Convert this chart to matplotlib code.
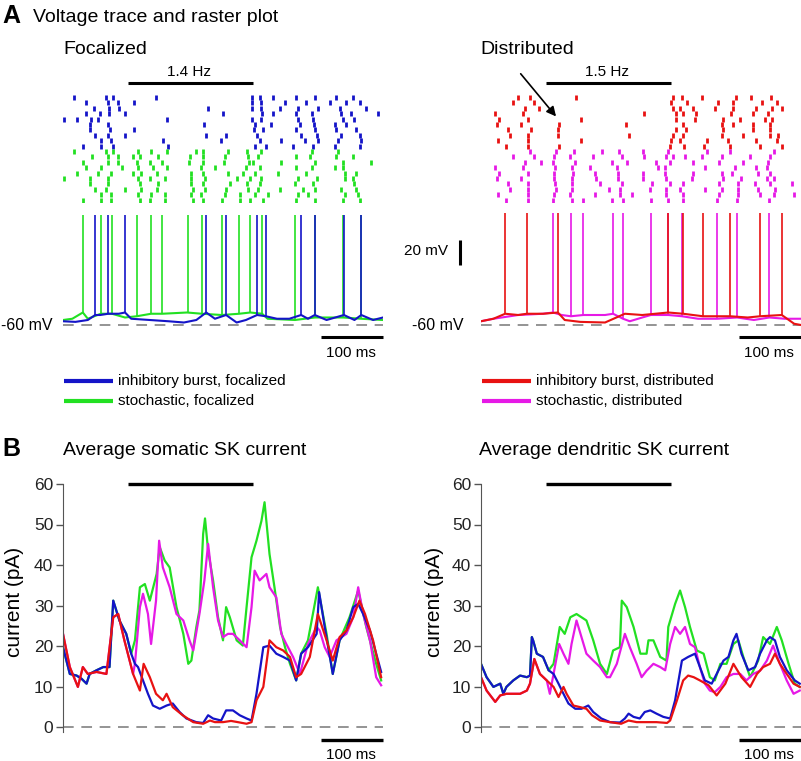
import matplotlib.pyplot as plt
import numpy as np
from matplotlib import transforms
from matplotlib.lines import Line2D

plt.rcParams['font.family'] = ['Liberation Sans', 'DejaVu Sans']

W, H = 801, 761
BLUE = '#1414c8'
GREEN = '#22e022'
RED = '#e81212'
MAGENTA = '#e619e6'
GREY = '#777777'

T_END = 516
STIM = [105, 306]
SCALE_MS = [416, 516]

# ---- panel A: raster rows (spike times, ms) ----
raster_focal_burst = [
    [18, 69, 81, 150, 304, 317, 339, 376, 406, 441, 468],
    [37, 73, 88, 114, 304, 320, 358, 392, 430, 457, 479],
    [50, 74, 91, 234, 304, 320, 350, 379, 411, 446, 489],
    [37, 59, 74, 100, 258, 321, 339, 376, 401, 449, 465, 508],
    [2, 22, 45, 57, 167, 304, 320, 379, 403, 452, 470],
    [44, 73, 227, 309, 336, 382, 405, 438, 457],
    [44, 75, 115, 308, 323, 376, 406, 441, 473],
    [52, 73, 100, 230, 263, 313, 384, 409, 449, 479],
    [62, 78, 161, 255, 317, 351, 390, 411, 444, 481],
    [32, 62, 81, 169, 309, 328, 371, 403, 438, 479],
]
raster_focal_stoch = [
    [18, 69, 81, 121, 142, 167, 214, 225, 266, 297, 320, 401, 444],
    [46, 73, 89, 113, 124, 153, 204, 226, 261, 298, 315, 376, 398, 441, 468],
    [32, 73, 88, 120, 141, 160, 203, 225, 259, 300, 307, 351, 406, 452, 497],
    [37, 62, 95, 121, 145, 167, 223, 245, 295, 317, 376, 401, 438, 452],
    [22, 57, 78, 113, 126, 151, 207, 226, 266, 290, 309, 347, 392, 454, 473],
    [2, 44, 73, 121, 140, 164, 207, 229, 281, 301, 320, 379, 409, 454, 468],
    [44, 73, 124, 153, 207, 226, 269, 296, 317, 374, 403, 470],
    [52, 70, 100, 125, 151, 210, 229, 263, 298, 315, 350, 387, 406, 449, 473],
    [62, 78, 121, 142, 164, 207, 223, 261, 285, 309, 331, 379, 395, 454, 476],
    [32, 62, 78, 124, 140, 164, 210, 226, 257, 285, 301, 323, 375, 406, 452, 479],
]
raster_dist_burst = [
    [59, 79, 153, 310, 324, 357, 411, 435, 468],
    [52, 86, 307, 332, 382, 407, 453, 477],
    [71, 94, 310, 321, 342, 377, 407, 444, 469, 486],
    [23, 68, 263, 314, 325, 346, 403, 439, 462],
    [29, 75, 161, 314, 345, 390, 418, 458, 469],
    [26, 64, 125, 234, 326, 388, 407, 438, 466],
    [44, 81, 124, 314, 330, 391, 439, 466],
    [47, 75, 124, 238, 310, 326, 388, 423, 466, 479],
    [28, 75, 162, 307, 321, 364, 399, 443, 477],
    [40, 75, 126, 304, 328, 360, 402, 450, 485],
]
raster_dist_stoch = [
    [79, 121, 150, 195, 223, 261, 301, 364, 402, 472],
    [52, 86, 118, 143, 180, 227, 263, 298, 310, 329, 357, 388, 434, 466],
    [71, 97, 116, 152, 212, 235, 282, 305, 342, 384, 423, 463],
    [23, 68, 119, 146, 176, 219, 286, 297, 361, 410, 444, 461],
    [29, 75, 118, 149, 184, 221, 262, 297, 342, 388, 404, 447, 466],
    [26, 64, 117, 146, 186, 221, 262, 299, 340, 391, 420, 461, 472],
    [44, 75, 119, 146, 192, 227, 275, 305, 326, 383, 415, 442, 466, 501],
    [47, 76, 121, 146, 206, 224, 272, 299, 321, 361, 388, 415, 447, 474],
    [28, 75, 117, 143, 184, 224, 243, 298, 326, 383, 414, 450, 472, 504],
    [40, 75, 116, 146, 165, 212, 229, 274, 301, 325, 380, 413, 465],
]

# ---- panel A: somatic voltage (baseline keypoints + spike times) ----
vf_burst_t = [0, 20, 40, 52, 60, 73, 90, 100, 110, 140, 170, 195, 215, 231, 245, 263, 280, 295,
              313, 327, 345, 365, 384, 395, 406, 425, 453, 470, 481, 500, 516]
vf_burst_v = [-57, -57.5, -56, -52, -52, -51, -51, -50, -55, -56, -57, -58, -56, -50, -55, -52, -58, -56,
              -52, -53, -55, -55, -52, -55, -52, -56, -52, -56, -52, -56, -54]
vf_burst_spikes = [52, 73, 100, 231, 263, 313, 327, 384, 406, 453, 481]

vf_stoch_t = [0, 15, 32, 40, 61, 79, 100, 119, 142, 160, 200, 224, 256, 284, 302, 321, 330, 374,
              406, 452, 481, 516]
vf_stoch_v = [-56, -55, -50, -55, -51, -51, -54, -53, -51, -51, -50, -51, -52, -51, -50, -51, -55, -56,
              -54, -54, -55, -56]
vf_stoch_spikes = [32, 61, 79, 119, 142, 160, 202, 224, 256, 284, 302, 321, 374, 406, 452, 481]

vd_burst_t = [0, 20, 39, 60, 74, 100, 124, 135, 160, 200, 232, 260, 302, 326, 358, 402, 430, 450,
              485, 505, 516]
vd_burst_v = [-57, -55, -51, -52, -51, -51, -50, -56, -57.5, -58, -51, -52, -50, -51, -53, -53, -54,
              -53, -52, -59, -60]
vd_burst_spikes = [39, 74, 124, 302, 326, 358, 402, 450, 485]

vd_stoch_t = [0, 20, 60, 100, 116, 130, 145, 165, 200, 213, 229, 240, 260, 274, 302, 324, 350, 381,
              413, 440, 465, 490, 516]
vd_stoch_v = [-57, -55, -52, -51, -50, -52, -53, -52, -52, -51, -55, -57, -54, -52, -52, -53, -55,
              -55, -54, -56, -54, -55, -55]
vd_stoch_spikes = [116, 145, 165, 213, 229, 274, 302, 324, 381, 413, 465]

# ---- panel B: average SK currents (ms, pA) ----
soma_burst_f_t = [0, 11, 22, 30, 38, 43, 54, 65, 75, 81, 91, 102, 110, 116, 121, 129, 137, 145, 156,
                  167, 177, 188, 199, 215, 226, 234, 242, 255, 263, 274, 285, 296, 304, 312, 323, 333,
                  344, 355, 366, 376, 384, 395, 409, 413, 422, 435, 446, 457, 468, 476, 484, 495, 505, 513]
soma_burst_f = [19.7, 13.1, 12.7, 11.9, 10.7, 13.1, 14.0, 14.8, 14.8, 31.2, 26.3, 23.0, 18.1, 15.6,
                14.8, 11.5, 8.2, 5.3, 4.5, 5.3, 5.8, 3.7, 2.1, 1.2, 1.0, 2.9, 2.1, 1.6, 4.1, 4.1, 2.9,
                2.1, 1.6, 8.2, 19.7, 20.1, 18.1, 17.3, 16.4, 11.5, 18.1, 19.7, 23.0, 33.3, 24.7, 13.1,
                21.4, 23.8, 29.6, 30.4, 27.9, 23.8, 18.1, 13.6]
soma_burst_d_t = [0, 11, 24, 32, 40, 54, 70, 81, 89, 99, 113, 124, 130, 140, 150, 161, 167, 177, 193,
                  210, 226, 237, 245, 258, 271, 282, 296, 304, 312, 323, 333, 344, 355, 366, 376, 384,
                  398, 411, 425, 435, 446, 457, 468, 478, 487, 500, 513]
soma_burst_d = [23.0, 14.8, 9.9, 14.8, 13.1, 13.6, 13.1, 27.1, 27.9, 21.4, 13.1, 9.0, 15.6, 12.3, 8.2,
                6.6, 8.2, 4.9, 2.9, 1.2, 0.8, 1.6, 1.2, 1.2, 1.5, 1.2, 0.8, 1.2, 6.6, 9.9, 21.4, 19.7,
                18.9, 17.3, 12.3, 13.1, 17.3, 27.9, 21.4, 16.4, 22.2, 23.8, 27.1, 31.2, 27.9, 21.4, 12.3]
soma_stoch_f_t = [0, 11, 22, 30, 38, 43, 54, 65, 75, 81, 91, 102, 110, 116, 124, 132, 140, 151, 156,
                  164, 172, 183, 194, 202, 207, 215, 220, 226, 229, 234, 242, 250, 258, 263, 269, 280,
                  290, 296, 304, 312, 320, 325, 333, 341, 350, 358, 366, 376, 384, 395, 411, 425, 435,
                  446, 462, 476, 489, 505, 513]
soma_stoch_f = [19.7, 13.1, 12.7, 11.9, 10.7, 13.1, 14.0, 14.8, 14.8, 31.2, 26.3, 23.0, 18.1, 21.4,
                34.5, 35.3, 31.2, 37.8, 44.4, 41.1, 39.4, 29.6, 23.0, 15.6, 16.4, 24.7, 28.8, 47.7, 51.5,
                43.5, 36.2, 27.1, 21.4, 29.6, 27.1, 21.4, 20.1, 29.6, 41.9, 46.0, 50.9, 55.5, 42.7, 34.5,
                24.7, 19.7, 15.6, 11.5, 18.1, 21.4, 34.5, 23.0, 13.1, 21.4, 27.1, 33.7, 24.7, 15.6, 11.5]
soma_stoch_d_t = [0, 11, 24, 32, 40, 54, 70, 81, 89, 99, 113, 116, 124, 129, 137, 142, 150, 155, 161,
                  172, 183, 194, 204, 210, 220, 228, 234, 242, 250, 258, 266, 274, 285, 296, 304, 309,
                  317, 328, 333, 344, 352, 360, 371, 382, 395, 409, 414, 422, 430, 441, 457, 468, 476,
                  484, 495, 505, 513]
soma_stoch_d = [23.0, 14.8, 9.9, 14.8, 13.1, 13.6, 13.1, 27.1, 27.9, 21.4, 13.1, 15.6, 29.6, 32.9,
                27.9, 20.5, 31.2, 46.0, 39.4, 34.5, 27.9, 26.3, 21.4, 18.9, 27.9, 36.2, 45.2, 34.5, 26.3,
                22.2, 23.0, 23.0, 21.4, 19.7, 29.6, 38.6, 36.2, 37.8, 34.5, 32.0, 23.0, 20.5, 17.3, 13.1,
                20.5, 24.7, 23.8, 19.7, 17.3, 21.4, 23.0, 27.1, 34.5, 27.9, 21.4, 12.3, 10.3]

dend_burst_f_t = [0, 9, 20, 31, 36, 41, 52, 63, 74, 79, 82, 84, 90, 100, 109, 117, 125, 133, 141, 152,
                  162, 173, 181, 194, 208, 224, 232, 238, 246, 256, 264, 273, 283, 294, 305, 313, 324,
                  334, 345, 353, 361, 372, 380, 391, 399, 407, 412, 420, 431, 442, 450, 461, 466, 474,
                  482, 493, 506, 514]
dend_burst_f = [15.6, 12.3, 9.9, 10.7, 8.2, 9.9, 11.5, 12.7, 12.3, 12.7, 22.2, 21.4, 18.1, 17.3, 14.0,
                13.1, 10.7, 8.2, 5.8, 4.5, 4.5, 5.3, 3.7, 2.1, 1.2, 1.1, 2.1, 3.3, 2.5, 2.1, 3.7, 4.1,
                3.3, 2.5, 2.1, 6.6, 16.4, 17.3, 18.1, 14.8, 11.5, 10.7, 13.1, 16.4, 17.3, 21.4, 23.0,
                18.1, 14.0, 14.8, 18.1, 21.4, 22.2, 21.4, 17.3, 14.0, 11.5, 10.7]
dend_burst_d_t = [0, 9, 23, 31, 41, 52, 63, 74, 79, 86, 95, 106, 117, 125, 133, 138, 149, 160, 170,
                  179, 192, 208, 226, 238, 251, 267, 283, 300, 305, 316, 326, 334, 343, 353, 367, 380,
                  394, 407, 420, 434, 445, 455, 466, 474, 482, 493, 504, 514]
dend_burst_d = [12.3, 9.0, 6.2, 7.8, 8.2, 8.2, 8.2, 9.0, 10.7, 16.8, 13.1, 11.5, 9.9, 7.4, 9.9, 8.2,
                5.3, 4.9, 4.5, 2.9, 1.6, 1.2, 0.8, 1.6, 1.2, 1.2, 1.2, 1.0, 1.6, 6.6, 11.5, 12.7, 12.3,
                11.5, 10.3, 7.8, 10.7, 15.6, 12.3, 9.9, 13.1, 14.8, 15.6, 18.1, 15.6, 13.1, 10.7, 9.9]
dend_stoch_f_t = [0, 9, 20, 31, 36, 41, 52, 63, 74, 79, 82, 84, 90, 100, 109, 117, 127, 135, 144, 154,
                  170, 181, 192, 203, 213, 224, 227, 235, 246, 257, 267, 270, 278, 289, 299, 302, 313,
                  321, 329, 337, 348, 359, 369, 377, 386, 396, 407, 415, 423, 434, 447, 455, 466, 477,
                  485, 496, 506, 514]
dend_stoch_f = [15.6, 12.3, 9.9, 10.7, 8.2, 9.9, 11.5, 12.7, 12.3, 12.7, 22.2, 21.4, 18.1, 17.3, 14.0,
                15.6, 24.7, 23.0, 27.1, 27.9, 26.3, 21.4, 15.6, 13.1, 18.9, 19.7, 31.2, 29.6, 24.7, 18.1,
                18.1, 21.4, 21.4, 17.3, 16.4, 24.7, 30.4, 33.7, 29.6, 24.7, 18.9, 18.1, 12.3, 11.5, 15.6,
                15.6, 20.5, 21.4, 17.3, 12.3, 16.4, 22.2, 20.5, 24.7, 21.4, 15.6, 10.7, 9.9]
dend_stoch_d_t = [0, 9, 23, 31, 41, 52, 63, 74, 79, 86, 95, 106, 111, 117, 126, 133, 141, 146, 154,
                  162, 170, 181, 192, 203, 208, 219, 232, 240, 251, 259, 267, 278, 289, 297, 305, 313,
                  321, 329, 337, 345, 353, 361, 369, 377, 386, 396, 407, 418, 428, 439, 450, 461, 471,
                  482, 493, 504, 514]
dend_stoch_d = [12.3, 9.0, 6.2, 7.8, 8.2, 8.2, 8.2, 9.0, 10.7, 16.8, 13.1, 11.5, 8.2, 13.1, 20.5,
                18.1, 15.6, 20.5, 26.3, 22.2, 18.1, 16.4, 14.8, 12.3, 12.3, 15.6, 23.0, 19.7, 15.6,
                12.3, 13.9, 15.6, 14.8, 14.0, 20.5, 24.7, 23.0, 24.7, 20.5, 19.7, 14.8, 10.7, 9.0, 8.6,
                9.9, 12.3, 13.1, 13.1, 11.5, 13.1, 13.9, 16.4, 20.1, 15.6, 11.5, 8.2, 9.0]


fig = plt.figure(figsize=(W / 100, H / 100), dpi=100)


def box(x0, y0, x1, y1):
    return [x0 / W, 1 - y1 / H, (x1 - x0) / W, (y1 - y0) / H]


def fy(y):
    return 1 - y / H


def ftext(x, y, s, **kw):
    fig.text(x / W, fy(y), s, **kw)


def xdata_yfig(ax):
    return transforms.blended_transform_factory(ax.transData, fig.transFigure)


def draw_raster(ax, rows, color, first):
    for i, times in enumerate(rows):
        ax.plot(times, np.full(len(times), first + i), ls='none', marker='|',
                ms=3.6, mew=2.0, color=color)


def draw_trace(ax, t, v, spikes, color, peak):
    ax.plot(t, v, color=color, lw=1.5)
    foot = np.interp(spikes, t, v)
    ax.vlines(spikes, foot, peak, color=color, lw=1.2)


def stim_bar(ax, y, label=None):
    tr = xdata_yfig(ax)
    ax.plot(STIM, [fy(y), fy(y)], transform=tr, color='k', lw=2.2,
            solid_capstyle='butt', clip_on=False)
    if label:
        ax.text(sum(STIM) / 2 - 3, fy(y - 11), label, transform=tr,
                ha='center', va='center', fontsize=11)


# ---- panel A ----
for side, x0 in (('f', 63), ('d', 481)):
    ras = fig.add_axes(box(x0, 94.3, x0 + 320, 202.3))
    ras.set_xlim(0, T_END)
    ras.set_ylim(19.5, -0.5)
    ras.axis('off')
    if side == 'f':
        draw_raster(ras, raster_focal_burst, BLUE, 0)
        draw_raster(ras, raster_focal_stoch, GREEN, 10)
        stim_bar(ras, 83, '1.4 Hz')
    else:
        draw_raster(ras, raster_dist_burst, RED, 0)
        draw_raster(ras, raster_dist_stoch, MAGENTA, 10)
        stim_bar(ras, 83, '1.5 Hz')
        ras.annotate('', xy=(121, 3.6), xytext=(64, -4.3),
                     arrowprops=dict(arrowstyle='-|>', color='k', lw=1.2,
                                     mutation_scale=14, shrinkA=0, shrinkB=0),
                     annotation_clip=False)

    vax = fig.add_axes(box(x0, 205, x0 + 320, 365))
    vax.set_xlim(0, T_END)
    vax.set_ylim(-92, 36)
    vax.axis('off')
    vax.plot([0, T_END], [-60, -60], color=GREY, lw=1.1, ls=(0, (7, 5)))
    if side == 'f':
        draw_trace(vax, vf_stoch_t, vf_stoch_v, vf_stoch_spikes, GREEN, 28)
        draw_trace(vax, vf_burst_t, vf_burst_v, vf_burst_spikes, BLUE, 28)
        vax.text(-17, -60, '-60 mV', ha='right', va='center', fontsize=11.5)
    else:
        draw_trace(vax, vd_stoch_t, vd_stoch_v, vd_stoch_spikes, MAGENTA, 30)
        draw_trace(vax, vd_burst_t, vd_burst_v, vd_burst_spikes, RED, 30)
        vax.text(-29, -60, '-60 mV', ha='right', va='center', fontsize=11.5)
        vax.plot([-34, -34], [-12, 8], color='k', lw=2.2, solid_capstyle='butt', clip_on=False)
        vax.text(-53, -1, '20 mV', ha='right', va='center', fontsize=11)
    vax.plot(SCALE_MS, [-69.6, -69.6], color='k', lw=2.2, solid_capstyle='butt', clip_on=False)
    vax.text(sum(SCALE_MS) / 2 - 2, -82.4, '100 ms', ha='center', va='center', fontsize=11)

# legends
legend_rows = [
    (64, 381, BLUE, 'inhibitory burst, focalized'),
    (64, 401, GREEN, 'stochastic, focalized'),
    (482, 381, RED, 'inhibitory burst, distributed'),
    (482, 401, MAGENTA, 'stochastic, distributed'),
]
for x, y, c, lab in legend_rows:
    fig.add_artist(Line2D([x / W, (x + 49) / W], [fy(y), fy(y)], color=c, lw=3,
                          solid_capstyle='butt'))
    ftext(x + 54, y, lab, ha='left', va='center', fontsize=11)

ftext(2, 16, 'A', fontsize=18, fontweight='bold', va='center', ha='left')
ftext(33, 17, 'Voltage trace and raster plot', fontsize=14, va='center', ha='left')
ftext(63, 50, 'Focalized', fontsize=14, va='center', ha='left')
ftext(480, 50, 'Distributed', fontsize=14, va='center', ha='left')

# ---- panel B ----
ftext(2, 449, 'B', fontsize=18, fontweight='bold', va='center', ha='left')
ftext(63, 451, 'Average somatic SK current', fontsize=14, va='center', ha='left')
ftext(479, 451, 'Average dendritic SK current', fontsize=14, va='center', ha='left')

panels_b = [
    (63, 15, [(soma_stoch_f_t, soma_stoch_f, GREEN), (soma_stoch_d_t, soma_stoch_d, MAGENTA),
              (soma_burst_f_t, soma_burst_f, BLUE), (soma_burst_d_t, soma_burst_d, RED)]),
    (481, 435, [(dend_stoch_f_t, dend_stoch_f, GREEN), (dend_stoch_d_t, dend_stoch_d, MAGENTA),
                (dend_burst_f_t, dend_burst_f, BLUE), (dend_burst_d_t, dend_burst_d, RED)]),
]
for x0, xlab, series in panels_b:
    ax = fig.add_axes(box(x0, 475.9, x0 + 320, 743.2))
    ax.set_xlim(0, T_END)
    ax.set_ylim(-4, 62)
    ax.patch.set_visible(False)
    for s in ('top', 'right', 'bottom'):
        ax.spines[s].set_visible(False)
    ax.spines['left'].set_color('#555555')
    ax.spines['left'].set_bounds(-1.2, 60)
    ax.set_xticks([])
    ax.set_yticks(range(0, 61, 10))
    ax.tick_params(axis='y', direction='out', length=5, width=1, color='#555555',
                   labelsize=12.5, labelcolor='#222222', pad=2)
    ax.plot([0, T_END], [0, 0], color=GREY, lw=1.1, ls=(0, (7, 5)))
    for t, v, c in series:
        ax.plot(t, v, color=c, lw=1.6)
    ax.plot(STIM, [60, 60], color='k', lw=2.4, solid_capstyle='butt', clip_on=False)
    ax.plot(SCALE_MS, [-3.2, -3.2], color='k', lw=2.4, solid_capstyle='butt', clip_on=False)
    ax.text(sum(SCALE_MS) / 2 - 2, -5.2, '100 ms', ha='center', va='top', fontsize=11)
    ftext(xlab, 602, 'current (pA)', rotation=90, ha='center', va='center', fontsize=15)

fig.savefig('out.png', dpi=100)
